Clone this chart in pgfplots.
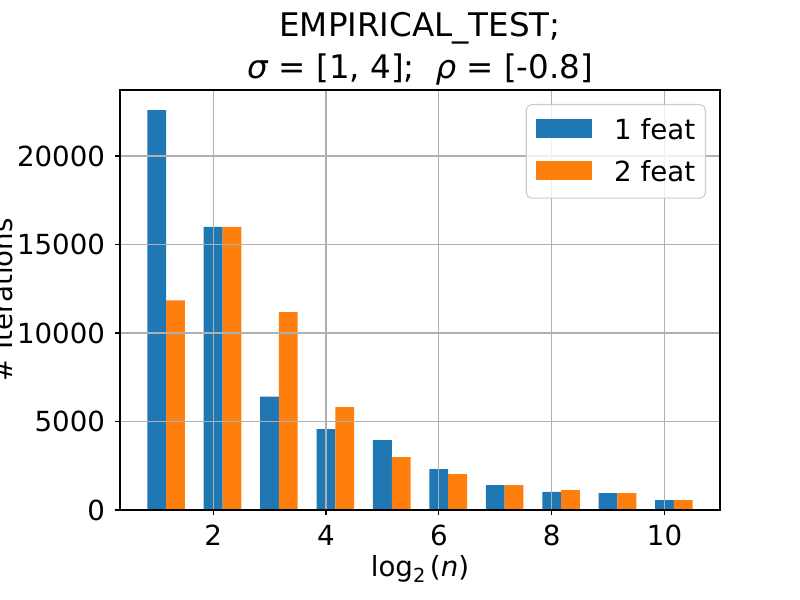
\documentclass[border=0pt]{standalone}
\usepackage{fontspec}
\setmainfont{DejaVu Sans}
\usepackage{pgfplots}
\usepackage{pgfplotstable}
\pgfplotsset{compat=1.18}

\definecolor{mplblue}{HTML}{1F77B4}
\definecolor{mplorange}{HTML}{FF7F0E}
\definecolor{gridgray}{HTML}{B0B0B0}
\definecolor{legedge}{HTML}{CCCCCC}

% iterations needed per log2(n), for one and two features
\pgfplotstableread{
x  one    two
1  22600  11850
2  16000  16000
3  6400   11180
4  4570   5810
5  3950   2990
6  2310   2030
7  1410   1410
8  1020   1130
9  960    960
10 565    565
}\itertable

\begin{document}
\begin{tikzpicture}
\useasboundingbox (0,0) rectangle (578.16pt,433.62pt);
\begin{axis}[
  at={(86.72pt,65.04pt)}, anchor=south west,
  scale only axis, width=433.62pt, height=303.53pt,
  xmin=0.35, xmax=10.9833, ymin=0, ymax=23730,
  xtick={2,4,6,8,10},
  ytick={0,5000,10000,15000,20000},
  scaled y ticks=false,
  /pgf/number format/1000 sep={},
  /pgf/number format/assume math mode=true,
  tick label style={font=\fontsize{20}{24}\selectfont},
  xticklabel style={anchor=north, inner sep=0pt, yshift=-7.1pt},
  yticklabel style={anchor=east, inner sep=0pt, xshift=-7.1pt},
  tick align=outside, tick pos=left,
  major tick length=3.5pt,
  every tick/.style={black, line width=0.8pt},
  axis line style={black, line width=0.8pt},
  grid=major,
  major grid style={gridgray, line width=0.8pt},
  axis on top,
  title={EMPIRICAL\_TEST;\\\textit{σ} = [1, 4];\ \ \textit{ρ} = [-0.8]},
  title style={at={(axis description cs:0.5,1)}, anchor=south, yshift=-3.1pt,
    align=center, inner sep=0pt, font=\fontsize{23.5}{31}\selectfont},
  xlabel={log\raisebox{-0.22em}{\fontsize{14}{14}\selectfont 2}\,(\textit{n})},
  xlabel style={at={(axis description cs:0.5,0)}, anchor=base, yshift=-48.2pt,
    inner sep=0pt, font=\fontsize{20}{24}\selectfont},
  every axis y label/.style={at={(axis description cs:0,0.5)}, xshift=-77.7pt,
    rotate=90, anchor=base, inner sep=0pt, font=\fontsize{20}{24}\selectfont},
  ylabel={\# Iterations},
  legend image code/.code={\fill[#1, fill opacity=1, sharp corners]
    (0pt,-5.75pt) rectangle (40.3pt,7.95pt);},
  legend cell align=left,
  legend style={at={(axis description cs:1,1)}, anchor=north east,
    xshift=-10.1pt, yshift=-10.1pt,
    draw=legedge, line width=0.8pt, rounded corners=4pt,
    fill=white, fill opacity=0.8, text opacity=1,
    font=\fontsize{20}{24}\selectfont,
    inner xsep=7.4pt, inner ysep=10.4pt, row sep=13.5pt,
    nodes={inner sep=0pt, text opacity=1},
    /tikz/every odd column/.append style={column sep=15.9pt}},
]
\addplot[ybar, bar width=0.3333, bar shift=0, fill=mplblue, draw=none]
  table[x=x, y=one]{\itertable};
\addlegendentry{1 feat}
\addplot[ybar, bar width=0.3333, bar shift=0.3333, fill=mplorange, draw=none]
  table[x=x, y=two]{\itertable};
\addlegendentry{2 feat}
\end{axis}
\end{tikzpicture}
\end{document}
